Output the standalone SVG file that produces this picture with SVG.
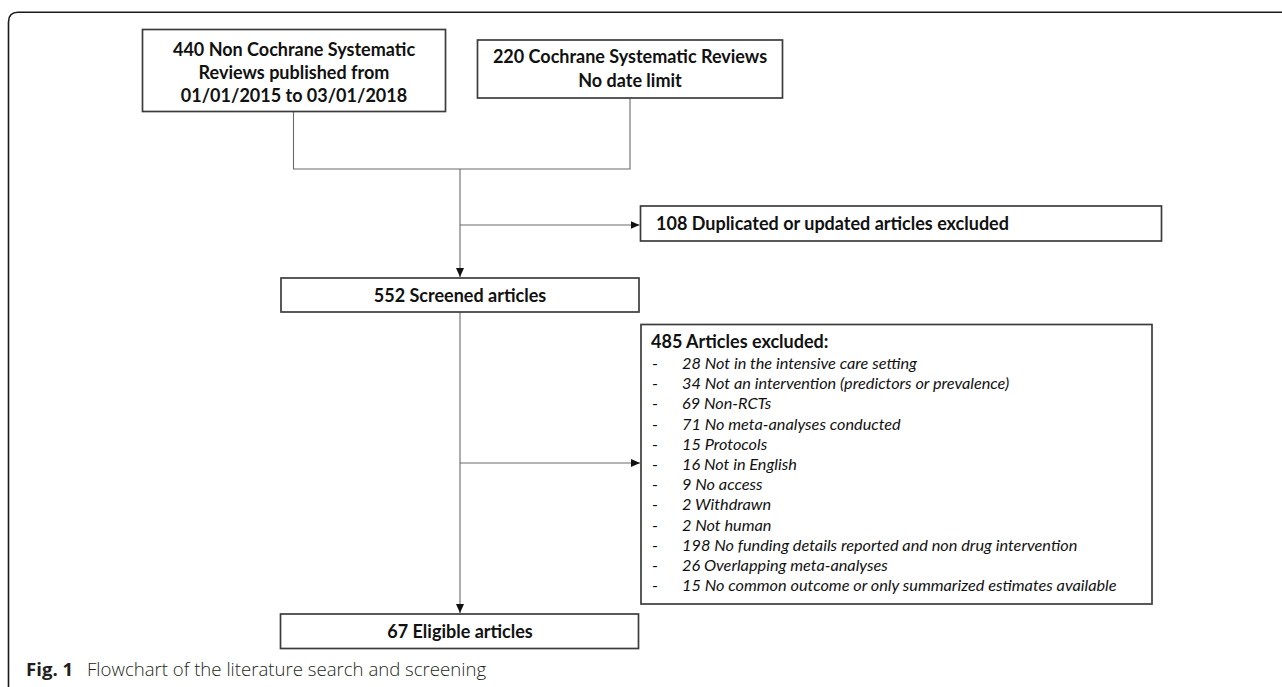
<svg xmlns="http://www.w3.org/2000/svg" width="1282" height="687" viewBox="0 0 1282 687">
  <defs>
    <style>
      .box { fill: #ffffff; stroke: #3c3c3c; stroke-width: 1.7; }
      .lbl { font-family: Lato, "Liberation Sans", sans-serif; font-weight: 700; font-size: 18px; fill: #111111; }
      .it { font-family: Lato, "Liberation Sans", sans-serif; font-style: italic; font-size: 16.3px; fill: #111111; }
      .dash { font-family: Lato, "Liberation Sans", sans-serif; font-size: 16px; fill: #111111; }
      .con { fill: none; stroke: #6a6a6a; stroke-width: 1.1; }
      .cap { font-family: "Open Sans", "Liberation Sans", sans-serif; font-size: 18.6px; fill: #231f20; }
    </style>
    <marker id="ah" markerWidth="10" markerHeight="8" refX="9" refY="4" orient="auto" markerUnits="userSpaceOnUse">
      <path d="M0,0 L9,4 L0,8 Z" fill="#111111"/>
    </marker>
  </defs>
  <rect width="1282" height="687" fill="#ffffff"/>
  <!-- outer frame -->
  <path d="M8.5,687 V22 Q8.5,12.3 18,12.3 H1282" fill="none" stroke="#1a1a1a" stroke-width="1.6"/>

  <g id="connectors">
    <path class="con" d="M293.5,111 V169 H630 V98"/>
    <path class="con" d="M460,169 V277" marker-end="url(#ah)"/>
    <path class="con" d="M460,225 H639.5" marker-end="url(#ah)"/>
    <path class="con" d="M460,312 V613" marker-end="url(#ah)"/>
    <path class="con" d="M460,463 H640" marker-end="url(#ah)"/>
  </g>

  <g id="n-noncochrane">
    <rect class="box" x="142.5" y="29.5" width="303" height="82"/>
    <text class="lbl" text-anchor="middle" x="294" y="56">440 Non Cochrane Systematic</text>
    <text class="lbl" text-anchor="middle" x="294" y="79">Reviews published from</text>
    <text class="lbl" text-anchor="middle" x="294" y="102">01/01/2015 to 03/01/2018</text>
  </g>

  <g id="n-cochrane">
    <rect class="box" x="477.5" y="40" width="305" height="58"/>
    <text class="lbl" text-anchor="middle" x="630" y="63">220 Cochrane Systematic Reviews</text>
    <text class="lbl" text-anchor="middle" x="630" y="87">No date limit</text>
  </g>

  <g id="n-duplicates">
    <rect class="box" x="640.5" y="206" width="521" height="35"/>
    <text class="lbl" x="656" y="230">108 Duplicated or updated articles excluded</text>
  </g>

  <g id="n-screened">
    <rect class="box" x="281" y="278" width="358" height="34"/>
    <text class="lbl" text-anchor="middle" x="460" y="302">552 Screened articles</text>
  </g>

  <g id="n-excluded">
    <rect class="box" x="641" y="324.5" width="511" height="279.5"/>
    <text class="lbl" x="651" y="348">485 Articles excluded:</text>
    <g class="dash">
      <text x="652" y="369">-</text>
      <text x="652" y="389.2">-</text>
      <text x="652" y="409.4">-</text>
      <text x="652" y="429.6">-</text>
      <text x="652" y="449.8">-</text>
      <text x="652" y="470">-</text>
      <text x="652" y="490.2">-</text>
      <text x="652" y="510.4">-</text>
      <text x="652" y="530.6">-</text>
      <text x="652" y="550.8">-</text>
      <text x="652" y="571">-</text>
      <text x="652" y="591.2">-</text>
    </g>
    <g class="it">
      <text x="682" y="369">28 Not in the intensive care setting</text>
      <text x="682" y="389.2">34 Not an intervention (predictors or prevalence)</text>
      <text x="682" y="409.4">69 Non-RCTs</text>
      <text x="682" y="429.6">71 No meta-analyses conducted</text>
      <text x="682" y="449.8">15 Protocols</text>
      <text x="682" y="470">16 Not in English</text>
      <text x="682" y="490.2">9 No access</text>
      <text x="682" y="510.4">2 Withdrawn</text>
      <text x="682" y="530.6">2 Not human</text>
      <text x="682" y="550.8">198 No funding details reported and non drug intervention</text>
      <text x="682" y="571">26 Overlapping meta-analyses</text>
      <text x="682" y="591.2">15 No common outcome or only summarized estimates available</text>
    </g>
  </g>

  <g id="n-eligible">
    <rect class="box" x="280.5" y="614" width="358" height="34.5"/>
    <text class="lbl" text-anchor="middle" x="460" y="638">67 Eligible articles</text>
  </g>

  <text class="cap" x="26" y="676"><tspan font-weight="700">Fig. 1</tspan><tspan x="87" font-weight="300">Flowchart of the literature search and screening</tspan></text>
</svg>
